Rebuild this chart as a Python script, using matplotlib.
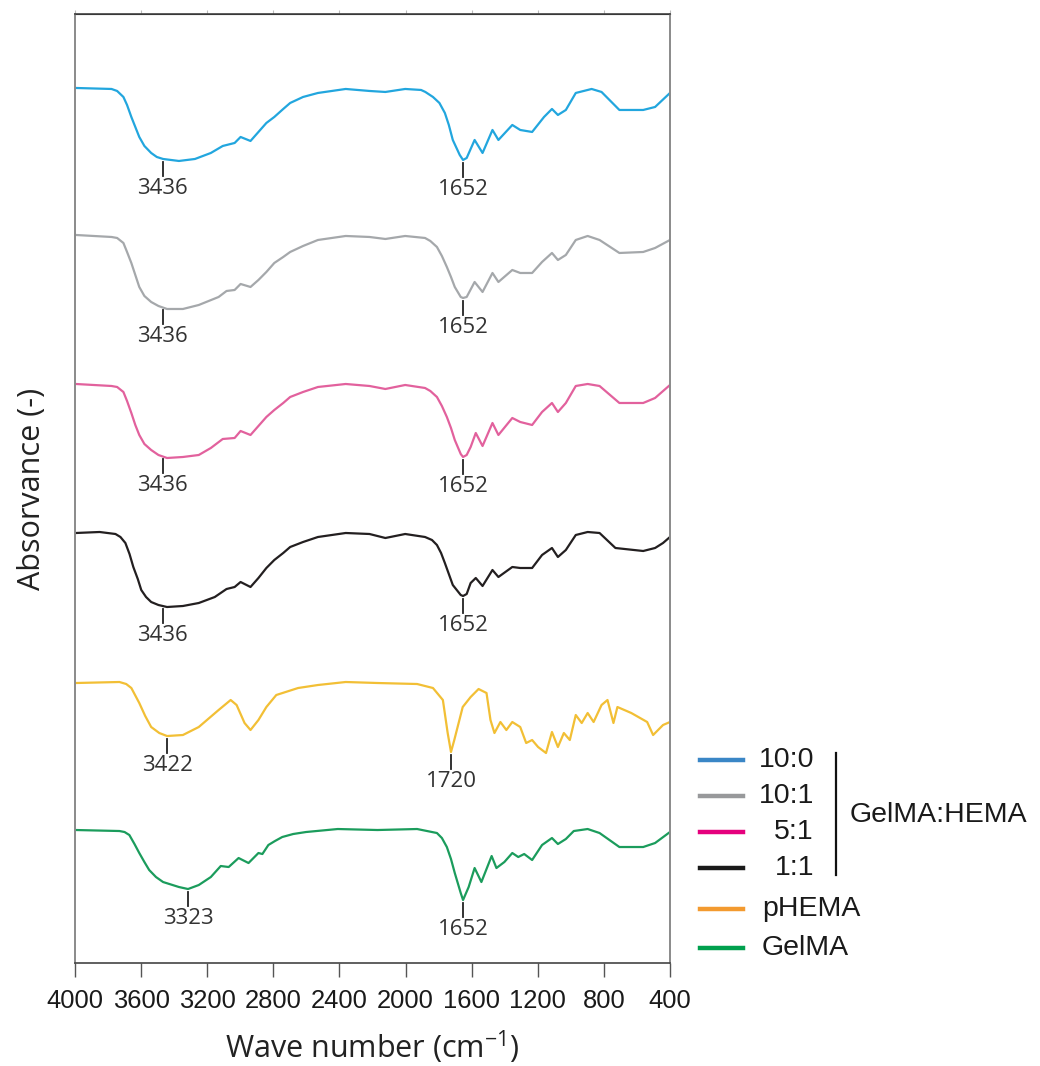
import numpy as np
import matplotlib.pyplot as plt
from matplotlib.lines import Line2D

# FTIR spectra, values (stacked absorbance, a.u.)
wn_blue = [3995, 3779, 3745, 3707, 3685, 3659, 3635, 3611, 3580, 3539, 3505, 3467, 3371, 3274, 3178,
           3106, 3034, 2998, 2938, 2890, 2842, 2794, 2740, 2698, 2620, 2530, 2362, 2218, 2122, 2002,
           1906, 1880, 1834, 1795, 1762, 1738, 1714, 1672, 1652, 1630, 1582, 1534, 1474, 1438, 1354,
           1306, 1234, 1162, 1114, 1078, 1030, 970, 874, 814, 706, 562, 490, 400]
ab_blue = [8.75, 8.74, 8.72, 8.66, 8.58, 8.46, 8.36, 8.26, 8.17, 8.10, 8.06, 8.04, 8.02, 8.04, 8.10,
           8.17, 8.20, 8.26, 8.22, 8.31, 8.40, 8.46, 8.54, 8.60, 8.66, 8.70, 8.74, 8.72, 8.71, 8.74,
           8.73, 8.71, 8.66, 8.60, 8.50, 8.38, 8.23, 8.08, 8.03, 8.05, 8.23, 8.10, 8.33, 8.23, 8.38,
           8.33, 8.31, 8.46, 8.54, 8.48, 8.53, 8.70, 8.74, 8.71, 8.53, 8.53, 8.56, 8.70]

wn_gray = [3995, 3779, 3745, 3707, 3685, 3659, 3635, 3611, 3580, 3539, 3495, 3443, 3347, 3251, 3131,
           3083, 3034, 2998, 2938, 2890, 2842, 2794, 2740, 2698, 2620, 2530, 2362, 2218, 2122, 2002,
           1882, 1850, 1810, 1780, 1750, 1725, 1702, 1666, 1652, 1630, 1582, 1534, 1474, 1438, 1354,
           1306, 1234, 1174, 1114, 1078, 1030, 970, 898, 826, 706, 562, 490, 400]
ab_gray = [7.28, 7.26, 7.25, 7.20, 7.11, 7.00, 6.88, 6.76, 6.67, 6.61, 6.57, 6.54, 6.54, 6.58, 6.66,
           6.72, 6.73, 6.79, 6.76, 6.83, 6.91, 7.00, 7.06, 7.11, 7.17, 7.23, 7.27, 7.26, 7.24, 7.27,
           7.25, 7.22, 7.16, 7.07, 6.96, 6.86, 6.76, 6.66, 6.65, 6.66, 6.81, 6.71, 6.90, 6.81, 6.93,
           6.90, 6.90, 7.01, 7.10, 7.03, 7.08, 7.23, 7.27, 7.23, 7.10, 7.11, 7.15, 7.23]

wn_pink = [3995, 3779, 3745, 3707, 3685, 3659, 3635, 3611, 3580, 3539, 3495, 3443, 3347, 3251, 3178,
           3106, 3034, 2998, 2938, 2890, 2842, 2794, 2740, 2698, 2620, 2530, 2362, 2218, 2122, 2002,
           1882, 1850, 1810, 1780, 1750, 1725, 1702, 1666, 1652, 1630, 1606, 1575, 1534, 1474, 1438,
           1354, 1306, 1234, 1174, 1114, 1078, 1030, 970, 898, 826, 706, 562, 490, 400]
ab_pink = [5.79, 5.77, 5.76, 5.71, 5.62, 5.50, 5.38, 5.28, 5.19, 5.13, 5.08, 5.05, 5.06, 5.08, 5.15,
           5.24, 5.25, 5.32, 5.28, 5.37, 5.46, 5.53, 5.60, 5.66, 5.71, 5.76, 5.79, 5.77, 5.74, 5.78,
           5.75, 5.72, 5.66, 5.57, 5.46, 5.35, 5.23, 5.09, 5.06, 5.08, 5.16, 5.30, 5.17, 5.40, 5.28,
           5.45, 5.41, 5.38, 5.51, 5.60, 5.51, 5.60, 5.77, 5.79, 5.77, 5.60, 5.60, 5.65, 5.78]

wn_black = [3995, 3851, 3755, 3725, 3695, 3670, 3647, 3620, 3599, 3570, 3539, 3495, 3443, 3347, 3251,
            3154, 3083, 3034, 2998, 2938, 2890, 2842, 2794, 2740, 2698, 2620, 2530, 2362, 2218, 2122,
            2002, 1882, 1840, 1810, 1785, 1762, 1738, 1714, 1666, 1652, 1630, 1606, 1575, 1534, 1474,
            1438, 1354, 1306, 1234, 1174, 1114, 1078, 1030, 970, 898, 826, 730, 562, 490, 442, 400]
ab_black = [4.30, 4.31, 4.29, 4.26, 4.20, 4.09, 3.96, 3.84, 3.73, 3.66, 3.61, 3.58, 3.56, 3.57, 3.60,
            3.66, 3.74, 3.76, 3.81, 3.76, 3.85, 3.95, 4.03, 4.10, 4.16, 4.21, 4.26, 4.30, 4.29, 4.25,
            4.29, 4.26, 4.23, 4.18, 4.10, 4.00, 3.89, 3.78, 3.68, 3.67, 3.69, 3.80, 3.85, 3.77, 3.93,
            3.86, 3.96, 3.95, 3.95, 4.08, 4.15, 4.06, 4.13, 4.28, 4.31, 4.30, 4.15, 4.12, 4.15, 4.20,
            4.26]

wn_phema = [3995, 3731, 3690, 3659, 3611, 3575, 3539, 3490, 3443, 3347, 3251, 3131, 3058, 3022, 2974,
            2938, 2890, 2842, 2782, 2650, 2530, 2362, 2170, 1930, 1834, 1774, 1745, 1725, 1705, 1654,
            1606, 1558, 1510, 1486, 1462, 1426, 1390, 1354, 1306, 1270, 1234, 1198, 1150, 1114, 1078,
            1042, 1006, 970, 934, 898, 862, 814, 778, 742, 718, 634, 538, 502, 442, 400]
ab_phema = [2.80, 2.81, 2.79, 2.75, 2.60, 2.47, 2.36, 2.30, 2.27, 2.28, 2.36, 2.53, 2.63, 2.58, 2.40,
            2.33, 2.43, 2.56, 2.68, 2.75, 2.78, 2.81, 2.80, 2.79, 2.75, 2.63, 2.30, 2.11, 2.23, 2.56,
            2.66, 2.74, 2.70, 2.43, 2.30, 2.41, 2.33, 2.41, 2.36, 2.20, 2.23, 2.16, 2.10, 2.31, 2.16,
            2.30, 2.23, 2.48, 2.40, 2.50, 2.41, 2.58, 2.63, 2.40, 2.56, 2.50, 2.41, 2.28, 2.38, 2.41]

wn_gelma = [3995, 3731, 3700, 3671, 3640, 3611, 3580, 3551, 3510, 3467, 3371, 3316, 3251, 3178, 3118,
            3070, 3010, 2950, 2890, 2866, 2830, 2790, 2746, 2680, 2602, 2410, 2170, 1930, 1810, 1780,
            1750, 1725, 1702, 1666, 1652, 1618, 1582, 1541, 1479, 1450, 1402, 1354, 1318, 1282, 1234,
            1174, 1114, 1078, 1030, 982, 898, 826, 706, 562, 490, 400]
ab_gelma = [1.33, 1.32, 1.31, 1.28, 1.19, 1.10, 1.01, 0.93, 0.86, 0.81, 0.76, 0.74, 0.78, 0.86, 0.97,
            0.96, 1.05, 1.00, 1.10, 1.09, 1.18, 1.22, 1.26, 1.29, 1.31, 1.34, 1.33, 1.34, 1.30, 1.25,
            1.16, 1.04, 0.90, 0.70, 0.63, 0.76, 0.95, 0.81, 1.07, 0.95, 1.01, 1.10, 1.06, 1.09, 1.03,
            1.18, 1.25, 1.19, 1.24, 1.32, 1.34, 1.30, 1.16, 1.16, 1.20, 1.31]

traces = [
    (wn_blue, ab_blue, '#22a6de'),
    (wn_gray, ab_gray, '#a5a8ab'),
    (wn_pink, ab_pink, '#e2619d'),
    (wn_black, ab_black, '#231f20'),
    (wn_phema, ab_phema, '#f2bf35'),
    (wn_gelma, ab_gelma, '#1b9c5c'),
]

# peak marks: (trace index, position on picture, label)
peaks = [
    (0, 3470, '3436'), (0, 1652, '1652'),
    (1, 3470, '3436'), (1, 1652, '1652'),
    (2, 3470, '3436'), (2, 1652, '1652'),
    (3, 3470, '3436'), (3, 1652, '1652'),
    (4, 3443, '3422'), (4, 1725, '1720'),
    (5, 3316, '3323'), (5, 1652, '1652'),
]

legend_labels = ['10:0', '10:1', '5:1', '1:1', 'pHEMA', 'GelMA']
legend_colors = ['#3a86c6', '#98999b', '#e5007d', '#1a1a1a', '#f39a2f', '#00a04e']

fig = plt.figure(figsize=(10.4, 10.66), dpi=100)
ax = fig.add_axes([0.0721, 0.0966, 0.5721, 0.8903])

for wn, ab, c in traces:
    ax.plot(wn, ab, color=c, lw=1.6)

for i, x, lab in peaks:
    wn, ab, c = traces[i]
    y = np.interp(x, wn[::-1], ab[::-1])
    ax.plot([x, x], [y - 0.03, y - 0.17], color='#222222', lw=1.3)
    ax.text(x, y - 0.19, lab, ha='center', va='top', fontsize=16,
            family=['Open Sans', 'DejaVu Sans'], color='#333333')

ax.set_xlim(4000, 400)
ax.set_ylim(0, 9.49)
ax.set_xticks(range(4000, 399, -400))
ax.set_yticks([])
ax.tick_params(axis='x', direction='out', length=10, width=1, color='#555555', pad=9,
               labelsize=18.4, labelcolor='#1a1a1a')
for t in ax.get_xticklabels():
    t.set_family(['Liberation Sans', 'DejaVu Sans'])
for s in ['left', 'right']:
    ax.spines[s].set_color('#8a8a8a')
    ax.spines[s].set_linewidth(1.4)
ax.spines['bottom'].set_color('#444444')
ax.spines['top'].set_color('#444444')
ax.spines['bottom'].set_linewidth(1.2)
ax.spines['top'].set_linewidth(1.2)

top = ax.secondary_xaxis('top')
top.set_xticks(range(4000, 399, -400))
top.tick_params(length=3, color='#bbbbbb', labeltop=False)

ax.set_xlabel('Wave number (cm$^{\\mathregular{-1}}$)', fontsize=22,
              family=['Open Sans', 'DejaVu Sans'], color='#222222', labelpad=11)
ax.set_ylabel('Absorvance (-)', fontsize=22, family=['Open Sans', 'DejaVu Sans'],
              color='#222222', labelpad=20)

# legend drawn by hand so the ratios line up on the right
W, H = 1040.0, 1066.0
leg_y = [760, 796, 832, 868, 909, 948]
for lab, c, yp in zip(legend_labels, legend_colors, leg_y):
    fig.add_artist(Line2D([700 / W, 743 / W], [1 - yp / H, 1 - yp / H], color=c, lw=3.2))
    if ':' in lab:
        fig.text(814 / W, 1 - yp / H, lab, ha='right', va='center', fontsize=20.5,
                 family=['Liberation Sans', 'DejaVu Sans'], color='#1a1a1a')
    else:
        fig.text(762 / W, 1 - yp / H, lab, ha='left', va='center', fontsize=20.5,
                 family=['Liberation Sans', 'DejaVu Sans'], color='#1a1a1a')
fig.add_artist(Line2D([836 / W, 836 / W], [1 - 753 / H, 1 - 875 / H], color='#111111', lw=1.6))
fig.text(850 / W, 1 - 815 / H, 'GelMA:HEMA', ha='left', va='center', fontsize=20.5,
         family=['Liberation Sans', 'DejaVu Sans'], color='#1a1a1a')

fig.savefig('out.png', dpi=100)
